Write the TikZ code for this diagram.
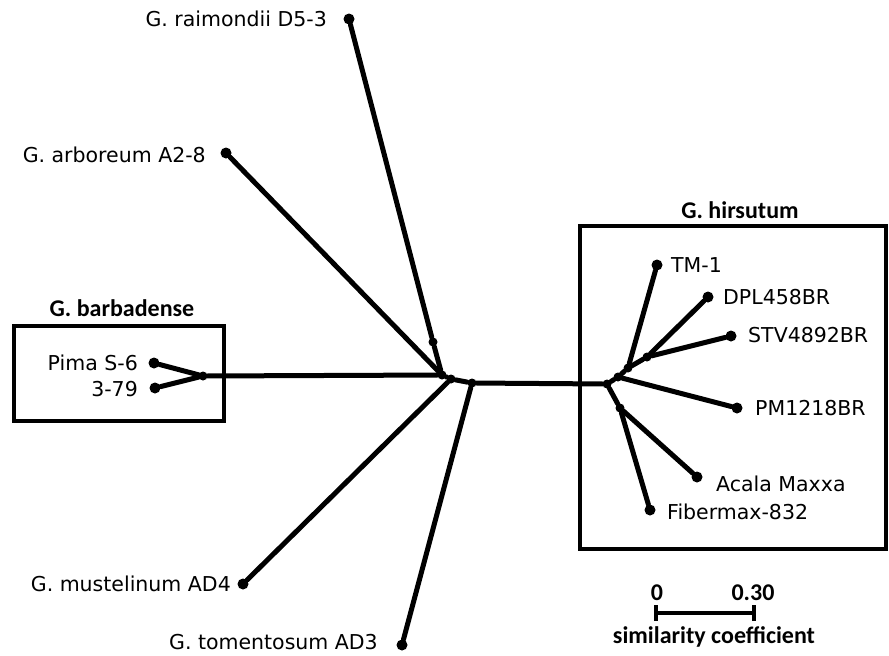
\documentclass[tikz,border=0pt]{standalone}
\usepackage{fontspec}
\setmainfont{DejaVu Sans}
\newfontfamily\titlefont{Carlito}
\tikzset{
  leaf/.style={circle,fill=black,inner sep=0pt,minimum size=11pt},
  knot/.style={circle,fill=black,inner sep=0pt,minimum size=9pt},
  lab/.style={font=\fontsize{20.5}{23}\selectfont,inner sep=0pt},
  ttl/.style={font=\titlefont\bfseries\fontsize{24}{27}\selectfont,inner sep=0pt},
  branch/.style={draw,line width=5pt,line cap=round},
  frame/.style={draw,line width=3.5pt}
}
\begin{document}
\begin{tikzpicture}[x=1pt,y=-1pt]
\useasboundingbox (0,0) rectangle (889,656);
% leaves
\node[leaf] (rai) at (349,19) {};
\node[leaf] (arb) at (226,153) {};
\node[leaf] (pima) at (154,363) {};
\node[leaf] (b79) at (155,388) {};
\node[leaf] (mus) at (243,584) {};
\node[leaf] (tom) at (402,645) {};
\node[leaf] (tm) at (657,265) {};
\node[leaf] (dpl) at (708,297) {};
\node[leaf] (stv) at (731,336) {};
\node[leaf] (pm) at (737,408) {};
\node[leaf] (acala) at (697,477) {};
\node[leaf] (fiber) at (650,510) {};
% inner points
\node[knot] (b0) at (203,376) {};
\node[knot] (j1) at (442,375) {};
\node[knot] (r1) at (433,342) {};
\node[knot] (j2) at (451,379) {};
\node[knot] (j3) at (472,383) {};
\node[knot] (h0) at (607,384) {};
\node[knot] (h1) at (618,377) {};
\node[knot] (h2) at (628,368) {};
\node[knot] (h3) at (647,357) {};
\node[knot] (h4) at (620,408) {};
% branches
\path[branch] (b0) -- (pima);
\path[branch] (b0) -- (b79);
\path[branch] (b0) -- (j1);
\path[branch] (j1) -- (r1) -- (rai);
\path[branch] (j1) -- (arb);
\path[branch] (j1) -- (j2) -- (j3);
\path[branch] (j2) -- (mus);
\path[branch] (j3) -- (tom);
\path[branch] (j3) -- (h0);
\path[branch] (h0) -- (h1) -- (h2) -- (tm);
\path[branch] (h2) -- (h3) -- (dpl);
\path[branch] (h3) -- (stv);
\path[branch] (h1) -- (pm);
\path[branch] (h0) -- (h4) -- (acala);
\path[branch] (h4) -- (fiber);
% labels
\node[lab,anchor=east] at (327,19) {G. raimondii D5-3};
\node[lab,anchor=east] at (206,155) {G. arboreum A2-8};
\node[lab,anchor=east] at (138,363) {Pima S-6};
\node[lab,anchor=east] at (138,389) {3-79};
\node[lab,anchor=east] at (231,584) {G. mustelinum AD4};
\node[lab,anchor=east] at (378,642) {G. tomentosum AD3};
\node[lab,anchor=west] at (671,265) {TM-1};
\node[lab,anchor=west] at (723,297) {DPL458BR};
\node[lab,anchor=west] at (748,335) {STV4892BR};
\node[lab,anchor=west] at (755,408) {PM1218BR};
\node[lab,anchor=west] at (716,484) {Acala Maxxa};
\node[lab,anchor=west] at (667,512) {Fibermax-832};
% groups
\path[frame] (14,326) rectangle (224,421);
\node[ttl] at (122,308) {G. barbadense};
\path[frame] (580,226) rectangle (886,549);
\node[ttl] at (740,210) {G. hirsutum};
% scale bar
\coordinate (s0) at (656,613);
\coordinate (s1) at (754,613);
\draw[line width=3.5pt] (s0) -- (s1);
\draw[line width=3.5pt] ([yshift=-8pt]s0) -- ([yshift=8pt]s0);
\draw[line width=3.5pt] ([yshift=-8pt]s1) -- ([yshift=8pt]s1);
\node[ttl] at (657,593) {0};
\node[ttl] at (753,593) {0.30};
\node[ttl] at (714,637) {similarity coefficient};
\end{tikzpicture}
\end{document}
